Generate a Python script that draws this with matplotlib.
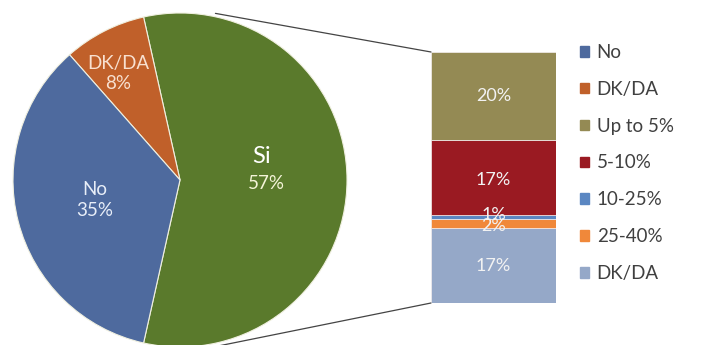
import matplotlib.pyplot as plt
import numpy as np
from matplotlib.patches import ConnectionPatch, Patch

plt.rcParams['font.family'] = ['Lato', 'DejaVu Sans']

# pie data
pie_labels = ['Si', 'DK/DA', 'No']
pie_values = [57, 8, 35]
pie_colors = ['#5a7a2c', '#c0602a', '#4e6a9e']

# breakdown of "Si" (bottom to top)
bar_labels = ['DK/DA', '25-40%', '10-25%', '5-10%', 'Up to 5%']
bar_values = [17, 2, 1, 17, 20]
bar_colors = ['#95a8c8', '#f0883a', '#5b87c2', '#9a1a22', '#948a54']

W, H = 703, 345
fig = plt.figure(figsize=(W / 100, H / 100), dpi=100)

# pie axes, positioned in pixels
cx, cy, r = 180, 180, 167
ax_pie = fig.add_axes([(cx - r) / W, 1 - (cy + r) / H, 2 * r / W, 2 * r / H])
si_angle = pie_values[0] / sum(pie_values) * 360
wedges, _ = ax_pie.pie(pie_values, colors=pie_colors, startangle=-si_angle / 2,
                       counterclock=True, radius=1,
                       wedgeprops=dict(edgecolor='#f0f0e0', linewidth=0.8))
ax_pie.set_xlim(-1, 1)
ax_pie.set_ylim(-1, 1)
ax_pie.axis('off')

ax_pie.text(0.49, 0.14, 'Si', color='white', fontsize=17, ha='center', va='center')
ax_pie.text(0.52, -0.02, '57%', color='#f4f4d8', fontsize=13.5, ha='center', va='center')
ax_pie.text(-0.51, -0.12, 'No\n35%', color='#e8eef8', fontsize=13.5, ha='center', va='center',
            linespacing=1.35)
ax_pie.text(-0.37, 0.64, 'DK/DA\n8%', color='#f8e0d0', fontsize=13.5, ha='center', va='center',
            linespacing=1.2)

# stacked bar
bx0, bx1, by0, by1 = 431, 556, 52, 303
ax_bar = fig.add_axes([bx0 / W, 1 - by1 / H, (bx1 - bx0) / W, (by1 - by0) / H])
bottoms = np.concatenate([[0], np.cumsum(bar_values)[:-1]])
for val, b, c in zip(bar_values, bottoms, bar_colors):
    ax_bar.bar(0, val, bottom=b, width=1, color=c, edgecolor='#f4eeee', linewidth=0.5)
ax_bar.set_xlim(-0.5, 0.5)
ax_bar.set_ylim(0, sum(bar_values))
ax_bar.axis('off')
for val, b, lab in zip(bar_values, bottoms, bar_labels):
    y = b + val / 2
    if val == 2:
        y -= 0.6
    elif val == 1:
        y += 0.4
    elif val == 17 and b > 0:
        y -= 0.6
    ax_bar.text(0, y, f'{val}%', color='#f2f2f2', fontsize=13, ha='center', va='center')

# connector lines
for ang, ybar in [(78, sum(bar_values)), (-77, 0)]:
    t = np.deg2rad(ang)
    con = ConnectionPatch(xyA=(1.02 * np.cos(t), 1.02 * np.sin(t)), coordsA=ax_pie.transData,
                          xyB=(-0.5, ybar), coordsB=ax_bar.transData,
                          color='#444444', linewidth=0.9)
    fig.add_artist(con)

# legend
handles = [Patch(color=pie_colors[2]), Patch(color=pie_colors[1])]
names = ['No', 'DK/DA']
for c, lab in list(zip(bar_colors, bar_labels))[::-1]:
    handles.append(Patch(color=c))
    names.append(lab)
fig.legend(handles, names, loc='upper left', bbox_to_anchor=(563 / W, 1 - 27 / H),
           frameon=False, fontsize=13.5, handlelength=0.5, handleheight=0.5,
           handletextpad=0.4, labelspacing=1.06, labelcolor='#404040')

fig.savefig('out.png', dpi=100)
